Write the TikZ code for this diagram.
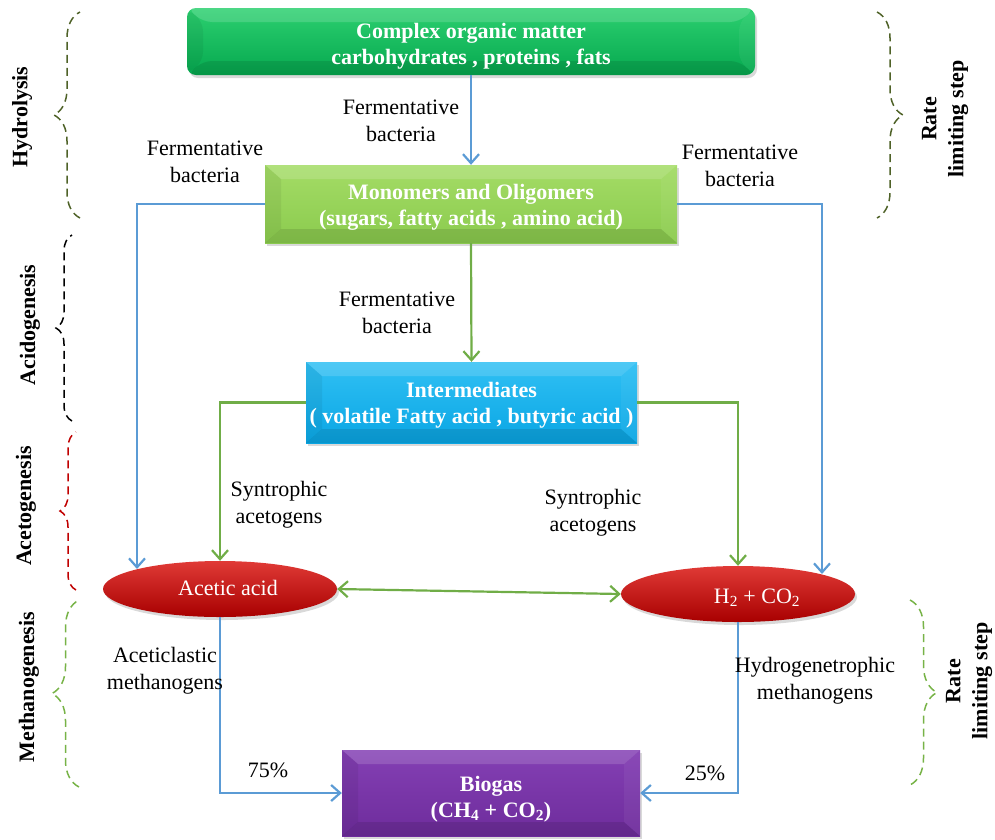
\documentclass[tikz,border=0pt]{standalone}
\usepackage{fontspec}
\setmainfont{Liberation Serif}
\usetikzlibrary{arrows.meta,decorations.pathreplacing,shapes.geometric,shadows,calc}
\definecolor{linkblue}{HTML}{5B9BD5}
\definecolor{linkgreen}{HTML}{70AD47}
\definecolor{topgreenA}{HTML}{2DD070}
\definecolor{topgreenB}{HTML}{05A84F}
\definecolor{monoA}{HTML}{A4DC66}
\definecolor{monoB}{HTML}{8BCB4E}
\definecolor{interA}{HTML}{30C0F4}
\definecolor{interB}{HTML}{0AA6E4}
\definecolor{bioA}{HTML}{8440B4}
\definecolor{bioB}{HTML}{6E2C9C}
\definecolor{redA}{HTML}{E03A36}
\definecolor{redM}{HTML}{C80A0A}
\definecolor{redB}{HTML}{A80000}
\definecolor{bracedark}{HTML}{4F6228}
\definecolor{bracered}{HTML}{C00000}
\definecolor{bracelight}{HTML}{77B347}
\begin{document}
\begin{tikzpicture}[x=1pt,y=-1pt,
  txt/.style={font=\fontsize{22}{27}\selectfont, align=center, inner sep=0pt},
  boxtxt/.style={font=\fontsize{22}{26}\selectfont\bfseries, align=center, inner sep=0pt, text=white},
  steplabel/.style={font=\fontsize{22}{27}\selectfont\bfseries, align=center, inner sep=0pt, rotate=90},
  bevel/.style={path picture={
    \fill[white,opacity=.15] (path picture bounding box.north west) -- (path picture bounding box.north east)
      -- ([xshift=-16pt,yshift=-14pt]path picture bounding box.north east) -- ([xshift=16pt,yshift=-14pt]path picture bounding box.north west) -- cycle;
    \fill[black,opacity=.10] (path picture bounding box.south west) -- (path picture bounding box.south east)
      -- ([xshift=-16pt,yshift=14pt]path picture bounding box.south east) -- ([xshift=16pt,yshift=14pt]path picture bounding box.south west) -- cycle;
    \fill[black,opacity=.06] (path picture bounding box.north west) -- ([xshift=16pt,yshift=-14pt]path picture bounding box.north west)
      -- ([xshift=16pt,yshift=14pt]path picture bounding box.south west) -- (path picture bounding box.south west) -- cycle;
    \fill[white,opacity=.05] (path picture bounding box.north east) -- ([xshift=-16pt,yshift=-14pt]path picture bounding box.north east)
      -- ([xshift=-16pt,yshift=14pt]path picture bounding box.south east) -- (path picture bounding box.south east) -- cycle;
  }},
  box/.style={rectangle, inner sep=0pt, bevel,
    drop shadow={shadow xshift=2pt, shadow yshift=-3pt, opacity=.3}},
  blob/.style={ellipse, inner sep=0pt, minimum width=234pt, minimum height=56pt,
    top color=redA, middle color=redM, bottom color=redB,
    drop shadow={shadow xshift=2pt, shadow yshift=-3pt, opacity=.3}},
  bluelink/.style={draw=linkblue, line width=2.2pt, -{Straight Barb[length=9pt,width=16pt]}},
  greenlink/.style={draw=linkgreen, line width=2.2pt, -{Straight Barb[length=9pt,width=16pt]}},
  phase/.style={dashed, dash pattern=on 8pt off 5pt, line width=1.5pt, decorate}
]
\useasboundingbox (0,0) rectangle (995,839);

% boxes
\node[box, rounded corners=9pt, minimum width=568pt, minimum height=67pt,
  top color=topgreenA, bottom color=topgreenB] (organic) at (471,41.5) {};
\node[boxtxt] (organictext) at (471,46.5) {Complex organic matter\\carbohydrates , proteins , fats};
\node[box, minimum width=412pt, minimum height=78pt,
  top color=monoA, bottom color=monoB] (mono) at (471,204) {};
\node[boxtxt] (monotext) at (471,207.5) {Monomers and Oligomers\\(sugars, fatty acids , amino acid)};
\node[box, minimum width=331pt, minimum height=81pt,
  top color=interA, bottom color=interB] (inter) at (471.5,402.5) {};
\node[boxtxt] (intertext) at (471.5,405) {Intermediates\\( volatile Fatty acid , butyric acid )};
\node[box, minimum width=298pt, minimum height=86pt,
  top color=bioA, bottom color=bioB] (biogas) at (491,793) {};
\node[boxtxt] (biogastext) at (491,799.5) {Biogas\\(CH\textsubscript{4} + CO\textsubscript{2})};

% ellipses
\node[blob] (acetic) at (220,589) {};
\node[txt, text=white] (acetictext) at (228,588) {Acetic acid};
\node[blob] (gas) at (738,594) {};
\node[txt, text=white] (gastext) at (757,598) {H\textsubscript{2} + CO\textsubscript{2}};

% free ends on the ellipses
\coordinate (aL) at (137,569);
\coordinate (gR) at (822,574);

% connectors
\draw[bluelink] (organic.south) -- (mono.north);
\draw[bluelink] (mono.west) -| (aL);
\draw[bluelink] (mono.east) -| (gR);
\draw[greenlink] (mono.south) -- (inter.north);
\draw[greenlink] (inter.west) -| (acetic.north);
\draw[greenlink] (inter.east) -| (gas.north);
\draw[greenlink, {Straight Barb[length=9pt,width=16pt]}-{Straight Barb[length=9pt,width=16pt]}] (acetic.east) -- (gas.west);
\draw[bluelink] (acetic.south) |- (biogas.west);
\draw[bluelink] (gas.south) |- (biogas.east);

% labels
\node[txt] (l1) at (401,121) {Fermentative\\bacteria};
\node[txt] (l2) at (205,162) {Fermentative\\bacteria};
\node[txt] (l3) at (740,166) {Fermentative\\bacteria};
\node[txt] (l4) at (397,313) {Fermentative\\bacteria};
\node[txt] (l5) at (279,505) {Syntrophic\\acetogens};
\node[txt] (l6) at (593,513) {Syntrophic\\acetogens};
\node[txt] (l7) at (165,671) {Aceticlastic\\methanogens};
\node[txt] (l8) at (815,681) {Hydrogenetrophic\\methanogens};
\node[txt] (p1) at (268,770) {75\%};
\node[txt] (p2) at (705,773) {25\%};

% phase braces (left)
\draw[phase, bracedark, decoration={brace, amplitude=26pt}] (80,218) -- (80,12);
\draw[phase, black, decoration={brace, amplitude=16pt}] (72,421) -- (72,235);
\draw[phase, bracered, decoration={brace, amplitude=16pt}] (76,590) -- (76,432);
\draw[phase, bracelight, decoration={brace, amplitude=27pt}] (79,787) -- (79,600);
% phase braces (right)
\draw[phase, bracedark, decoration={brace, amplitude=26pt}] (877,12) -- (877,218);
\draw[phase, bracelight, decoration={brace, amplitude=27pt}] (910,600) -- (910,785);

% phase names
\node[steplabel] (hyd) at (22,117) {Hydrolysis};
\node[steplabel] (aci) at (30,325) {Acidogenesis};
\node[steplabel] (ace) at (26,506) {Acetogenesis};
\node[steplabel] (met) at (29,687) {Methanogenesis};
\node[steplabel] (rate1) at (945,119) {Rate\\limiting step};
\node[steplabel] (rate2) at (969,681) {Rate\\limiting step};
\end{tikzpicture}
\end{document}
